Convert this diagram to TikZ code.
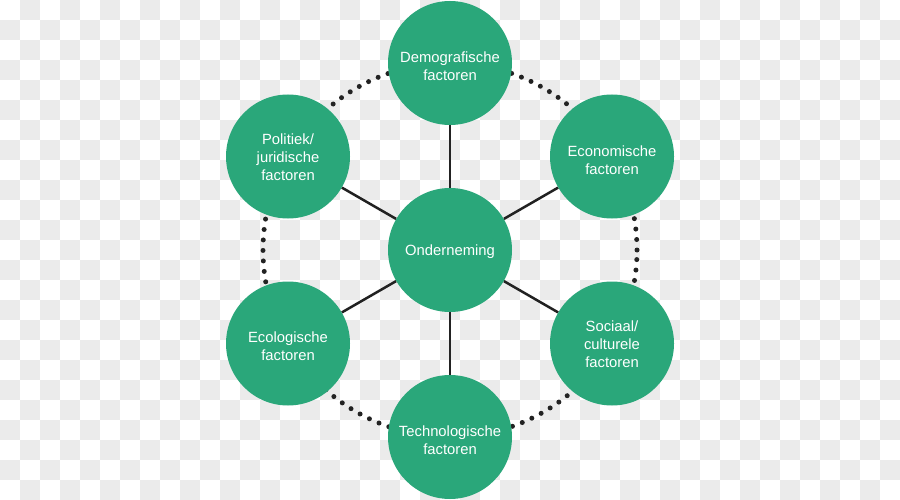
\documentclass[tikz,border=0pt]{standalone}
\usepackage{fontspec}
\setmainfont{Liberation Sans}
\usetikzlibrary{backgrounds}
\definecolor{checkgrey}{HTML}{EBEBEB}
\definecolor{pestgreen}{RGB}{42,167,122}
\definecolor{darkline}{HTML}{222222}
\tikzset{
  factor/.style={circle, fill=pestgreen, minimum size=124pt, inner sep=0pt},
  ftext/.style={text=white, align=center, font=\fontsize{14.8}{18}\selectfont},
  spoke/.style={draw=darkline, line width=2.5pt},
  dotring/.style={draw=darkline, line width=5pt, line cap=round, dash pattern=on 0pt off 10.5pt}
}
\begin{document}
\begin{tikzpicture}[x=1pt,y=-1pt]
\useasboundingbox (0,0) rectangle (900,500);
\node[factor, label={[ftext, yshift=-2pt]center:Onderneming}] (ond) at (450,250) {};
\node[factor, label={[ftext, yshift=-3.5pt]center:Demografische\\factoren}] (dem) at (450,63) {};
\node[factor, label={[ftext, yshift=-3.5pt]center:Economische\\factoren}] (eco) at (612,156.5) {};
\node[factor, label={[ftext, yshift=-1pt]center:Sociaal/\\culturele\\factoren}] (soc) at (612,343.5) {};
\node[factor, label={[ftext, yshift=-3.5pt]center:Technologische\\factoren}] (tec) at (450,437) {};
\node[factor, label={[ftext, yshift=-3pt]center:Ecologische\\factoren}] (ecl) at (288,343.5) {};
\node[factor, label={[ftext, yshift=-1pt]center:Politiek/\\juridische\\factoren}] (pol) at (288,156.5) {};
\begin{scope}[on background layer]
  \fill[white] (0,0) rectangle (900,500);
  \foreach \i in {0,...,44}{
    \foreach \j in {0,...,24}{
      \pgfmathtruncatemacro{\parity}{mod(\i+\j,2)}
      \ifnum\parity=1
        \fill[checkgrey] (\i*20,\j*20) rectangle ++(20,20);
      \fi
    }
  }
  \draw[dotring] (ond.center) circle[radius=187pt];
  \foreach \n in {dem,eco,soc,tec,ecl,pol}{
    \draw[spoke] (ond) -- (\n);
  }
\end{scope}
\end{tikzpicture}
\end{document}
